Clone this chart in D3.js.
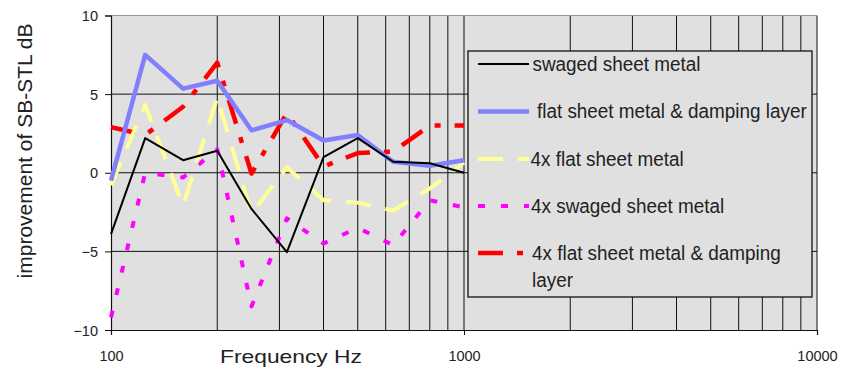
<!DOCTYPE html>
<html>
<head>
<meta charset="utf-8">
<script src="https://cdn.jsdelivr.net/npm/d3@7"></script>
<style>
  body { margin: 0; background: #fff; }
  text { font-family: Arial, "Liberation Sans", sans-serif; fill: #222; }
</style>
</head>
<body>
<div id="chart"></div>
<script>
// third-octave bands, 100 Hz .. 1 kHz
const freqs = [100, 125, 160, 200, 250, 315, 400, 500, 630, 800, 1000];

const swaged = [-3.9, 2.2, 0.8, 1.4, -2.3, -5.05, 1.0, 2.2, 0.7, 0.6, 0.0];
const flatDamping = [-0.5, 7.5, 5.35, 5.85, 2.7, 3.35, 2.05, 2.4, 0.7, 0.45, 0.8];
const flat4x = [-0.8, 4.3, -2.1, 4.8, -2.6, 0.35, -1.75, -1.9, -2.4, -1.0, 0.65];
const swaged4x = [-9.2, 0.0, -0.3, 1.5, -8.5, -2.9, -4.5, -3.5, -4.6, -1.75, -2.2];
const flatDamping4x = [2.9, 2.4, 4.2, 7.0, -0.05, 3.8, 0.4, 1.25, 1.35, 3.0, 3.0];

const seriesNames = [
  'swaged sheet metal',
  'flat sheet metal & damping layer',
  '4x flat sheet metal',
  '4x swaged sheet metal',
  '4x flat sheet metal & damping|layer',
];

const yTicks = [-10, -5, 0, 5, 10];
const xMajor = [100, 1000, 10000];

const width = 841;
const height = 370;

const svg = d3.select('#chart')
  .append('svg')
  .attr('width', width)
  .attr('height', height);

const x = d3.scaleLog().domain([100, 10000]).range([111, 817]);
const y = d3.scaleLinear().domain([-10, 10]).range([330, 15.5]);

// plot area
svg.append('rect')
  .attr('x', x(100))
  .attr('y', y(10))
  .attr('width', x(10000) - x(100))
  .attr('height', y(-10) - y(10))
  .attr('fill', '#e0e0e0');

// vertical grid (every band of each decade)
const gridFreqs = [];
for (let dec = 100; dec < 10000; dec *= 10) {
  for (let k = 2; k <= 10; k++) gridFreqs.push(dec * k);
}
svg.append('g')
  .selectAll('line')
  .data(gridFreqs)
  .join('line')
  .attr('x1', (d) => x(d))
  .attr('x2', (d) => x(d))
  .attr('y1', y(10))
  .attr('y2', y(-10))
  .attr('stroke', '#111')
  .attr('stroke-width', 1);

// horizontal grid
svg.append('g')
  .selectAll('line')
  .data([-5, 0, 5])
  .join('line')
  .attr('x1', x(100))
  .attr('x2', x(10000))
  .attr('y1', (d) => y(d))
  .attr('y2', (d) => y(d))
  .attr('stroke', '#111')
  .attr('stroke-width', 1);

svg.append('line')
  .attr('x1', x(100))
  .attr('x2', x(10000))
  .attr('y1', y(10))
  .attr('y2', y(10))
  .attr('stroke', '#999');

// axes
const yAxis = svg.append('g')
  .attr('transform', `translate(${x(100)},0)`)
  .call(d3.axisLeft(y).tickValues(yTicks).tickSize(6).tickPadding(7));
const xAxis = svg.append('g')
  .attr('transform', `translate(0,${y(-10)})`)
  .call(d3.axisBottom(x).tickValues(xMajor).tickFormat(d3.format('d')).tickSize(5).tickPadding(16));

[yAxis, xAxis].forEach((ax) => {
  ax.select('.domain').attr('stroke', '#111').attr('stroke-width', 1.2);
  ax.selectAll('.tick line').attr('stroke', '#111');
  ax.selectAll('.tick text')
    .style('font-family', 'Arial, "Liberation Sans", sans-serif')
    .style('font-size', '14.5px')
    .attr('fill', '#222');
});
yAxis.selectAll('.tick text').attr('dy', '0.35em');

// series
const series = [
  { values: swaged, color: '#000000', w: 2, dash: null },
  { values: flatDamping, color: '#8080ff', w: 4.5, dash: null },
  { values: flat4x, color: '#ffff99', w: 4, dash: '25,15' },
  { values: swaged4x, color: '#ff00ff', w: 4, dash: '7,16' },
  { values: flatDamping4x, color: '#ff0000', w: 4.5, dash: '25,14,6,14' },
];

const line = d3.line()
  .x((d) => x(d[0]))
  .y((d) => y(d[1]));

// draw back to front so the black line ends up on top like the original
const drawOrder = [4, 3, 2, 1, 0];
svg.append('g')
  .selectAll('path')
  .data(drawOrder.map((i) => series[i]))
  .join('path')
  .attr('d', (s) => line(freqs.map((f, i) => [f, s.values[i]])))
  .attr('fill', 'none')
  .attr('stroke', (s) => s.color)
  .attr('stroke-width', (s) => s.w)
  .attr('stroke-dasharray', (s) => s.dash)
  .attr('stroke-linejoin', 'round');

// legend
const legend = svg.append('g');
legend.append('rect')
  .attr('x', 468)
  .attr('y', 51)
  .attr('width', 344)
  .attr('height', 246)
  .attr('fill', '#e0e0e0')
  .attr('stroke', '#111')
  .attr('stroke-width', 1.3);

const rowY = [64, 111.5, 159, 206, 253];
const textX = [532.5, 537, 530.5, 531, 532];

series.forEach((s, i) => {
  legend.append('line')
    .attr('x1', 478)
    .attr('x2', 529)
    .attr('y1', rowY[i])
    .attr('y2', rowY[i])
    .attr('stroke', s.color)
    .attr('stroke-width', s.w)
    .attr('stroke-dasharray', s.dash);

  const parts = seriesNames[i].split('|');
  const t = legend.append('g')
    .attr('transform', `translate(${textX[i]},0) scale(0.945,1)`);
  parts.forEach((p, j) => {
    t.append('text')
      .attr('x', 0)
      .attr('y', rowY[i] + 7 + j * 27)
      .style('font-size', '20px')
      .text(p);
  });
});

// axis titles
svg.append('text')
  .attr('transform', 'translate(32,151) rotate(-90)')
  .attr('text-anchor', 'middle')
  .style('font-size', '21px')
  .attr('fill', '#333')
  .text('improvement of SB-STL  dB');

svg.append('text')
  .attr('x', 220)
  .attr('y', 363)
  .attr('textLength', 142)
  .attr('lengthAdjust', 'spacingAndGlyphs')
  .style('font-size', '19px')
  .attr('fill', '#333')
  .text('Frequency  Hz');
</script>
</body>
</html>
